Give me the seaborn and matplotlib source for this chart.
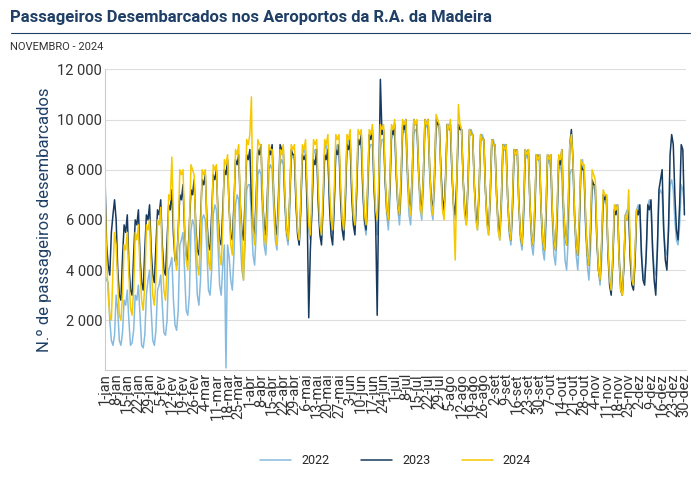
import matplotlib
matplotlib.use("Agg")
import matplotlib.pyplot as plt
import seaborn as sns
import pandas as pd
import numpy as np

# daily values in hundreds of passengers
y2022 = [38, 36, 35, 20, 12, 10, 14, 30, 24, 12, 10, 15, 28, 26, 32, 20, 10, 11, 16, 30, 28,
         34, 22, 10, 9, 14, 30, 36, 40, 24, 12, 10, 16, 32, 34, 38, 26, 15, 14, 20, 40, 42,
         45, 28, 18, 16, 24, 50, 52, 55, 40, 24, 22, 30, 56, 60, 58, 45, 30, 26, 36, 60, 62,
         60, 48, 32, 30, 40, 62, 66, 64, 50, 34, 30, 42, 50, 1, 50, 45, 36, 32, 46, 66, 70,
         68, 52, 40, 36, 50, 72, 74, 74, 60, 46, 42, 55, 78, 80, 78, 62, 50, 46, 58, 80, 82,
         80, 64, 52, 48, 60, 82, 84, 82, 66, 54, 50, 62, 84, 86, 84, 68, 55, 50, 62, 86, 88,
         86, 70, 56, 52, 64, 86, 88, 88, 70, 56, 52, 64, 88, 90, 86, 70, 58, 54, 66, 88, 90,
         88, 72, 58, 54, 66, 90, 92, 90, 72, 60, 56, 68, 90, 92, 88, 70, 58, 54, 66, 88, 90,
         90, 72, 60, 54, 66, 88, 92, 92, 74, 62, 56, 68, 92, 94, 94, 76, 64, 58, 70, 94, 96,
         94, 76, 62, 58, 70, 94, 96, 96, 78, 64, 60, 72, 96, 98, 96, 78, 64, 60, 72, 96, 98,
         98, 80, 66, 62, 74, 98, 98, 96, 78, 64, 60, 72, 96, 98, 96, 76, 62, 58, 70, 94, 96,
         94, 74, 60, 56, 68, 92, 94, 92, 72, 58, 54, 66, 90, 92, 88, 70, 56, 52, 64, 88, 90,
         86, 68, 54, 50, 62, 86, 88, 86, 66, 52, 48, 60, 84, 86, 84, 64, 50, 46, 58, 84, 86,
         82, 62, 48, 44, 56, 82, 84, 80, 60, 46, 42, 54, 80, 82, 78, 58, 44, 40, 52, 78, 80,
         80, 60, 46, 40, 52, 82, 84, 76, 56, 42, 36, 48, 72, 74, 70, 52, 40, 34, 44, 66, 68,
         66, 48, 38, 32, 42, 64, 66, 64, 46, 36, 32, 42, 62, 64, 62, 46, 36, 34, 44, 64, 66,
         64, 48, 38, 36, 46, 66, 68, 66, 50, 40, 38, 48, 70, 72, 70, 56, 48, 46, 56, 74, 76,
         72, 60, 52, 50, 58, 74, 72, 66]
y2023 = [77, 50, 42, 38, 55, 62, 68, 60, 40, 30, 28, 45, 58, 55, 62, 42, 32, 30, 46, 60, 58,
         64, 45, 35, 32, 48, 62, 60, 66, 48, 38, 35, 50, 64, 62, 68, 50, 40, 38, 52, 66, 64,
         72, 54, 44, 42, 56, 70, 68, 74, 56, 46, 44, 58, 72, 70, 76, 58, 48, 46, 60, 76, 74,
         78, 60, 50, 48, 62, 78, 76, 80, 62, 52, 50, 64, 80, 78, 84, 64, 54, 52, 66, 84, 82,
         86, 66, 56, 52, 68, 86, 84, 88, 68, 58, 54, 70, 88, 86, 90, 68, 58, 54, 70, 88, 86,
         90, 70, 58, 54, 70, 90, 88, 88, 68, 56, 52, 68, 88, 86, 86, 66, 54, 50, 66, 86, 84,
         86, 64, 21, 48, 64, 84, 82, 88, 66, 54, 50, 66, 86, 84, 88, 66, 54, 50, 66, 88, 86,
         90, 68, 56, 52, 68, 90, 88, 92, 70, 58, 54, 70, 92, 90, 94, 72, 60, 56, 72, 94, 92,
         96, 74, 60, 22, 72, 116, 94, 96, 76, 64, 60, 74, 96, 94, 98, 78, 66, 62, 76, 98, 96,
         100, 80, 68, 64, 78, 100, 98, 98, 80, 68, 64, 78, 100, 98, 100, 80, 68, 64, 78, 100, 98,
         98, 80, 68, 64, 78, 98, 96, 98, 78, 66, 62, 76, 98, 96, 96, 76, 64, 60, 74, 96, 94,
         94, 74, 62, 58, 72, 94, 92, 92, 72, 60, 56, 70, 92, 90, 90, 70, 58, 54, 68, 90, 88,
         90, 68, 56, 52, 66, 88, 86, 88, 66, 54, 50, 64, 88, 86, 88, 66, 54, 50, 64, 86, 84,
         86, 64, 52, 48, 62, 86, 84, 86, 64, 52, 48, 62, 84, 82, 88, 66, 54, 50, 64, 90, 96,
         84, 62, 50, 46, 60, 82, 80, 80, 58, 46, 42, 56, 76, 74, 74, 52, 40, 36, 50, 70, 68,
         70, 46, 34, 30, 44, 64, 62, 66, 44, 32, 30, 42, 62, 60, 64, 44, 34, 32, 44, 64, 62,
         66, 46, 36, 34, 46, 66, 64, 68, 48, 36, 30, 48, 72, 76, 80, 56, 44, 40, 56, 86, 94,
         90, 70, 56, 52, 66, 90, 88, 62]
y2024 = [70, 45, 30, 22, 20, 40, 55, 50, 35, 22, 20, 30, 50, 48, 55, 38, 25, 22, 32, 55, 52,
         58, 40, 28, 24, 34, 58, 56, 60, 42, 30, 26, 36, 60, 58, 65, 45, 32, 28, 40, 70, 68,
         85, 60, 45, 40, 55, 80, 78, 80, 58, 44, 40, 56, 82, 80, 78, 56, 42, 38, 54, 80, 78,
         80, 58, 44, 40, 56, 82, 80, 82, 60, 46, 42, 58, 84, 82, 86, 64, 50, 46, 62, 88, 86,
         90, 66, 52, 36, 64, 92, 90, 94, 109, 56, 50, 66, 92, 90, 90, 68, 54, 50, 66, 90, 88,
         88, 68, 54, 50, 66, 88, 86, 90, 70, 56, 52, 68, 90, 88, 90, 70, 56, 52, 68, 90, 88,
         92, 72, 58, 54, 70, 92, 90, 92, 72, 58, 54, 70, 92, 90, 94, 74, 60, 56, 72, 94, 92,
         94, 74, 60, 56, 72, 94, 92, 96, 76, 62, 58, 74, 96, 94, 96, 76, 62, 58, 74, 96, 94,
         98, 78, 64, 60, 76, 98, 96, 98, 78, 64, 60, 76, 98, 96, 100, 80, 66, 62, 78, 100, 98,
         100, 80, 66, 62, 78, 100, 98, 100, 80, 66, 62, 78, 100, 98, 100, 80, 66, 62, 78, 102, 100,
         98, 78, 64, 60, 76, 98, 96, 100, 80, 64, 44, 76, 106, 98, 96, 76, 62, 58, 74, 96, 94,
         94, 74, 60, 56, 72, 94, 92, 92, 72, 58, 54, 70, 92, 90, 90, 70, 56, 52, 68, 90, 88,
         90, 68, 56, 52, 68, 88, 86, 88, 66, 54, 50, 66, 88, 86, 88, 66, 54, 50, 66, 86, 84,
         86, 64, 52, 48, 64, 86, 84, 86, 64, 52, 48, 64, 86, 84, 88, 66, 54, 50, 66, 90, 94,
         84, 62, 50, 46, 62, 84, 82, 82, 60, 46, 42, 58, 80, 78, 76, 54, 40, 36, 52, 72, 70,
         70, 48, 36, 32, 46, 66, 64, 66, 44, 32, 30, 44, 62, 60, 72, 50, 36, 34, 48, 64]

months = ["jan", "fev", "mar", "abr", "mai", "jun", "jul", "ago", "set", "out", "nov", "dez"]
series = {"2022": y2022, "2023": y2023, "2024": y2024}
colors = {"2022": "#86bbdf", "2023": "#173a5e", "2024": "#f5c800"}

rows = []
for year, vals in series.items():
    for i, v in enumerate(vals):
        rows.append({"day": i, "valor": v * 100, "ano": year})
df = pd.DataFrame(rows)

sns.set_style("white")
plt.rcParams['font.family'] = ['Roboto', 'DejaVu Sans']
fig = plt.figure(figsize=(7, 4.78), dpi=100)
ax = fig.add_axes([0.15, 0.225, 0.83, 0.63])
sns.lineplot(data=df, x="day", y="valor", hue="ano", palette=colors, linewidth=1.1, ax=ax)

dates = pd.date_range("2024-01-01", "2024-12-31")
ticks = list(range(0, 366, 7))
ax.set_xticks(ticks)
ax.set_xticklabels([f"{dates[t].day}-{months[dates[t].month - 1]}" for t in ticks],
                   rotation=90, fontsize=10.5, color="#333333")
ax.set_xlim(0, 365)
ax.set_ylim(0, 12000)
ax.set_yticks([2000, 4000, 6000, 8000, 10000, 12000])
ax.set_yticklabels(["2 000", "4 000", "6 000", "8 000", "10 000", "12 000"], fontsize=10.5, color="#333333")
ax.tick_params(axis='both', length=0, pad=2)
ax.grid(axis='y', color='#dddddd', linewidth=0.8)
for s in ["top", "right"]:
    ax.spines[s].set_visible(False)
ax.spines["left"].set_color("#cccccc")
ax.spines["bottom"].set_color("#cccccc")
ax.set_xlabel("")
ax.set_ylabel("N.º de passageiros desembarcados", fontsize=12, color="#1f3f66")
ax.legend(loc="upper center", bbox_to_anchor=(0.5, -0.24), ncol=3, frameon=False,
          fontsize=9, handlelength=2.5, columnspacing=2.5)

fig.text(0.015, 0.955, "Passageiros Desembarcados nos Aeroportos da R.A. da Madeira",
         fontsize=12, fontweight="bold", color="#1f3f66")
fig.add_artist(plt.Line2D([0.015, 0.985], [0.932, 0.932], color="#1f3f66", linewidth=0.8))
fig.text(0.015, 0.895, "NOVEMBRO - 2024", fontsize=8, color="#333333")

fig.savefig("out.png", dpi=100)
